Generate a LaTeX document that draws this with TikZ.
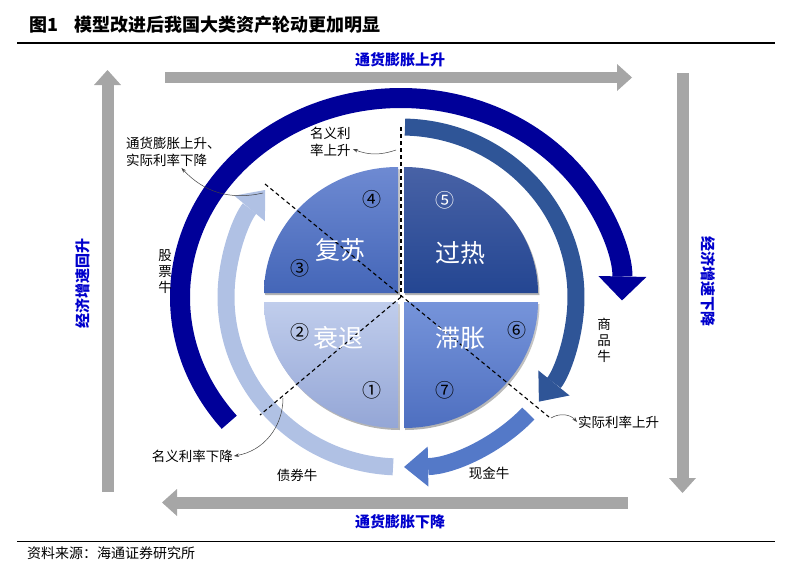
\documentclass[tikz,border=0pt]{standalone}
\usepackage{fontspec}
\usepackage{xcolor}
\usepackage{tikz}
\usetikzlibrary{positioning,arrows.meta,calc}

\newfontfamily\cjk{Noto Sans CJK SC}

\definecolor{navyarc}{HTML}{000099}
\definecolor{darkarc}{HTML}{2F5597}
\definecolor{midarc}{HTML}{5479C8}
\definecolor{lightarc}{HTML}{B0C1E4}
\definecolor{grayarr}{HTML}{A6A6A6}
\definecolor{labblue}{HTML}{0000CC}

\begin{document}
\begin{tikzpicture}[
  x=1pt, y=-1pt,
  txt/.style={font=\cjk\fontsize{13.5}{17}\selectfont, inner sep=1pt},
  vtxt/.style={txt, align=center, font=\cjk\fontsize{13.5}{16}\selectfont},
  axislab/.style={font=\cjk\bfseries\fontsize{15}{17}\selectfont, text=labblue, inner sep=1pt},
  phase/.style={font=\cjk\fontsize{25}{27}\selectfont, text=white, inner sep=0pt},
  num/.style={font=\cjk\fontsize{19}{20}\selectfont, inner sep=0pt},
  garr/.style={draw=grayarr, line width=12pt, -{Triangle[length=15pt,width=27pt,line width=0pt]}},
  ring/.style={line width=17pt, -{Triangle[length=24pt,width=40pt,line width=0pt]}},
  guide/.style={dash pattern=on 4pt off 3pt, line width=1.1pt},
  note/.style={-{Stealth[length=5pt,width=3.5pt]}, line width=0.5pt, draw=black!75}
]
\useasboundingbox (0,0) rectangle (790,570);

% heading and source
\node[font=\cjk\bfseries\fontsize{18}{20}\selectfont, anchor=west, inner sep=0pt] (figNo) at (29,25) {图1};
\node[font=\cjk\bfseries\fontsize{18}{20}\selectfont, inner sep=0pt, right=16pt of figNo] (figTitle) {模型改进后我国大类资产轮动更加明显};
\draw[line width=1.2pt] (17,43) -- (775,43);
\draw[line width=1pt] (17,541) -- (775,541);
\node[font=\cjk\fontsize{14}{16}\selectfont, anchor=west, inner sep=0pt] (src) at (27,553) {资料来源：海通证券研究所};

% grey frame arrows
\draw[garr, line width=11pt] (165,77.5) -- (632,77.5);
\draw[garr] (682.5,73) -- (682.5,493);
\draw[garr] (628,502.5) -- (162,502.5);
\draw[garr] (107.5,492) -- (107.5,70);

\node[axislab] (inflUp) at (400,60) {通货膨胀上升};
\node[axislab] (inflDown) at (400,522) {通货膨胀下降};
\node[axislab, rotate=90] (growUp) at (83,283) {经济增速回升};
\node[axislab, rotate=-90] (growDown) at (708,281) {经济增速下降};

% four phases
\coordinate (c) at (401,297);
\shade[top color=black!20, bottom color=black!30] (399.5,295) -- ++(0,-126) arc[start angle=-90, end angle=-180, x radius=134, y radius=126] -- cycle;
\shade[top color=black!20, bottom color=black!30] (405.5,295) -- ++(134,0) arc[start angle=0, end angle=-90, x radius=134, y radius=126] -- cycle;
\shade[top color=black!20, bottom color=black!30] (399.5,304) -- ++(-134,0) arc[start angle=180, end angle=90, x radius=134, y radius=126] -- cycle;
\shade[top color=black!20, bottom color=black!30] (405.5,304) -- ++(0,126) arc[start angle=90, end angle=0, x radius=134, y radius=126] -- cycle;

\shade[top color={rgb,255:red,110;green,138;blue,210}, bottom color={rgb,255:red,68;green,102;blue,184}]
  (398,293) -- ++(0,-126) arc[start angle=-90, end angle=-180, x radius=134, y radius=126] -- cycle;
\shade[top color={rgb,255:red,72;green,98;blue,166}, bottom color={rgb,255:red,36;green,70;blue,146}]
  (404,293) -- ++(134,0) arc[start angle=0, end angle=-90, x radius=134, y radius=126] -- cycle;
\shade[top color={rgb,255:red,192;green,205;blue,236}, bottom color={rgb,255:red,148;green,166;blue,214}]
  (398,302) -- ++(-134,0) arc[start angle=180, end angle=90, x radius=134, y radius=126] -- cycle;
\shade[top color={rgb,255:red,118;green,148;blue,218}, bottom color={rgb,255:red,78;green,111;blue,192}]
  (404,302) -- ++(0,126) arc[start angle=90, end angle=0, x radius=134, y radius=126] -- cycle;

% rotation arrows
\draw[ring, draw=navyarc, line width=20pt, -{Triangle[length=24pt,width=48pt,line width=0pt]}]
  ($(c)+(141:221 and 199)$) arc[start angle=141, end angle=361, x radius=221, y radius=199];
\draw[ring, draw=lightarc] ($(c)+(92.6:175 and 170)$) arc[start angle=92.6, end angle=219, x radius=175, y radius=170];
\draw[ring, draw=darkarc] ($(c)+(-88.7:175 and 170)$) arc[start angle=-88.7, end angle=38, x radius=175, y radius=170];
\draw[ring, draw=midarc] ($(c)+(43.3:175 and 170)$) arc[start angle=43.3, end angle=89, x radius=175, y radius=170];

% dividing lines
\coordinate (dTop) at (401,127);
\coordinate (dNW) at (265,184);
\coordinate (dSE) at (549,417);
\coordinate (dSW) at (260,415);
\draw[guide] (dTop) -- (c);
\draw[guide] (dNW) -- (dSE);
\draw[guide] (c) -- (dSW);

\node[phase] (recov) at (340,250) {复苏};
\node[phase] (overh) at (460,253) {过热};
\node[phase] (stagf) at (460,338) {滞胀};
\node[phase] (reces) at (338,338) {衰退};
\node[num] (n1) at (372,390) {①};
\node[num] (n2) at (300,332) {②};
\node[num] (n3) at (300,268) {③};
\node[num] (n4) at (372,199) {④};
\node[num, text=white] (n5) at (445,200) {⑤};
\node[num] (n6) at (517,330) {⑥};
\node[num] (n7) at (445,390) {⑦};

% notes
\coordinate (pA) at (396,150);
\coordinate (pB) at (263,193);
\coordinate (pC) at (551,418);
\coordinate (pD) at (283,398);
\node[txt, align=left, anchor=west] (nomUp) at (309,142) {名义利\\率上升};
\node[txt, align=left, anchor=west] (inflReal) at (125,152) {通货膨胀上升、\\实际利率下降};
\node[txt, anchor=west] (realUp) at (577,422) {实际利率上升};
\node[txt, anchor=east] (nomDown) at (234,456) {名义利率下降};
\draw[note] (pA) to[bend left=20] ([xshift=1pt,yshift=-7pt]nomUp.east);
\draw[note] (pB) to[bend left=30] ([xshift=8pt]inflReal.south);
\draw[note] (pC) to[bend left=40] (realUp.west);
\draw[note] (pD) to[bend left=40] (nomDown.east);

\node[vtxt] (stockBull) at (165,272) {股\\票\\牛};
\node[vtxt] (commBull) at (604,340) {商\\品\\牛};
\node[txt] (bondBull) at (297,475) {债券牛};
\node[txt] (cashBull) at (489,473) {现金牛};
\end{tikzpicture}
\end{document}
